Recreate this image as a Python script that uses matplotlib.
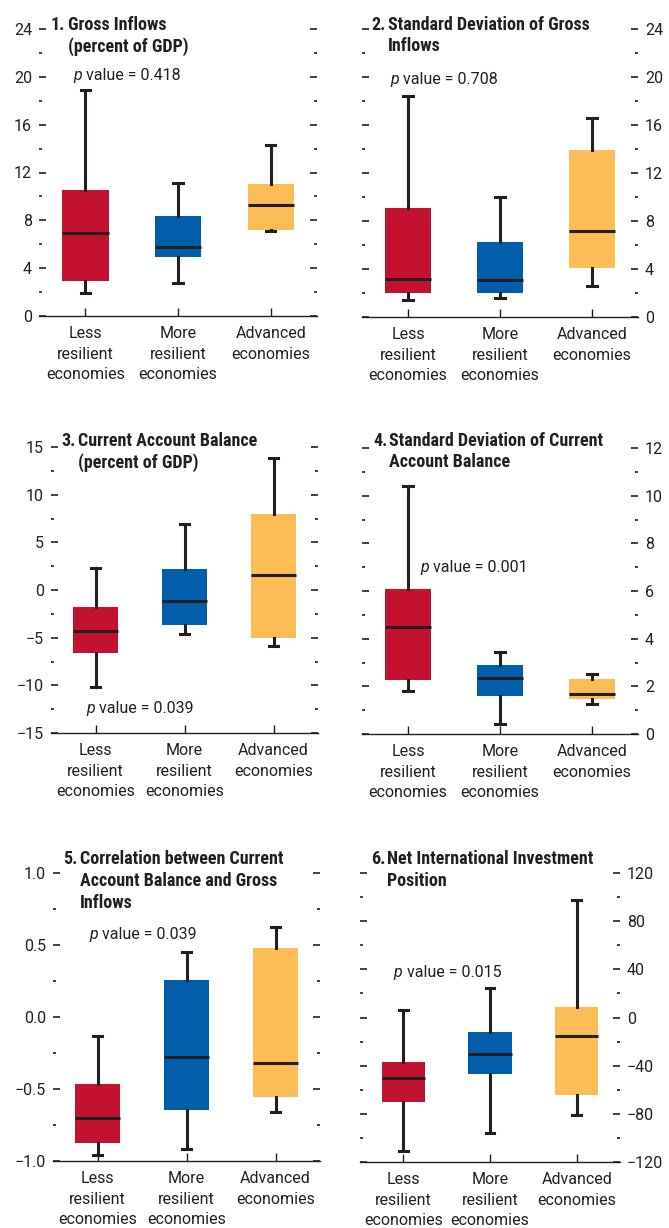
import matplotlib
matplotlib.use("Agg")
import matplotlib.pyplot as plt
from matplotlib import font_manager as fm
from matplotlib.font_manager import FontProperties
from matplotlib.ticker import MultipleLocator

# ---------------- data ----------------
categories = ["Less\nresilient\neconomies", "More\nresilient\neconomies", "Advanced\neconomies"]
colors = ["#C31230", "#005EAB", "#FDBD56"]

# each tuple: (whisker low, q1, median, q3, whisker high)
gross_inflows = [(1.9, 2.9, 6.9, 10.55, 18.9), (2.8, 4.9, 5.8, 8.4, 11.1), (7.1, 7.2, 9.3, 11.0, 14.3)]
sd_gross_inflows = [(1.45, 2.0, 3.15, 9.1, 18.4), (1.55, 2.0, 3.05, 6.25, 10.0), (2.55, 4.05, 7.2, 13.9, 16.6)]
current_account = [(-10.2, -6.65, -4.3, -1.8, 2.3), (-4.65, -3.7, -1.15, 2.2, 6.9), (-5.85, -5.05, 1.6, 7.95, 13.85)]
sd_current_account = [(1.8, 2.25, 4.47, 6.1, 10.4), (0.4, 1.58, 2.36, 2.9, 3.42), (1.26, 1.47, 1.66, 2.32, 2.53)]
corr_ca_inflows = [(-0.955, -0.875, -0.70, -0.462, -0.13), (-0.92, -0.643, -0.276, 0.255, 0.452), (-0.657, -0.555, -0.316, 0.478, 0.622)]
niip = [(-111.0, -69.8, -49.9, -37.1, 6.6), (-95.6, -46.6, -30.2, -12.2, 24.4), (-80.7, -64.0, -15.2, 8.6, 97.6)]

titles_num = ["1.", "2.", "3.", "4.", "5.", "6."]
titles_body = ["Gross Inflows\n(percent of GDP)",
               "Standard Deviation of Gross\nInflows",
               "Current Account Balance\n(percent of GDP)",
               "Standard Deviation of Current\nAccount Balance",
               "Correlation between Current\nAccount Balance and Gross\nInflows",
               "Net International Investment\nPosition"]
p_values = ["0.418", "0.708", "0.039", "0.001", "0.039", "0.015"]

# ---------------- fonts ----------------
def pick_bold():
    prefs = ["Roboto Condensed", "Archivo Narrow", "PT Sans Narrow", "Fira Sans Condensed",
             "IBM Plex Sans Condensed", "Liberation Sans Narrow"]
    fl = fm.fontManager.ttflist
    for fam in prefs:
        c = [f for f in fl if f.name == fam and f.style == "normal" and abs(int(f.weight) - 700) <= 50]
        c.sort(key=lambda f: ("[" in f.fname, abs(int(f.weight) - 700)))
        if c:
            return FontProperties(fname=c[0].fname)
    return FontProperties(family="Liberation Sans", weight="bold")

FP_BOLD = pick_bold()
FP_REG = FontProperties(family=["Roboto", "Liberation Sans", "DejaVu Sans"])
FP_IT = FontProperties(family=["Roboto", "Liberation Sans", "DejaVu Sans"], style="italic")

def fp(base, size):
    f = base.copy()
    f.set_size(size)
    return f

# ---------------- layout ----------------
W, H = 669, 1228
fig = plt.figure(figsize=(W / 100, H / 100), dpi=100)
INK = "#231F20"

def rect(x0, x1, yt, yb):
    return [x0 / W, 1 - yb / H, (x1 - x0) / W, (yb - yt) / H]

panels = [
    dict(data=gross_inflows, r=rect(39, 317, 29, 316), ylim=(0, 24), major=4, minor=2, side="left",
         p=(-0.13, 20.1), tnum=(51, 15.5), tbody=(68, 15.5)),
    dict(data=sd_gross_inflows, r=rect(362, 638, 29, 317), ylim=(0, 24), major=4, minor=2, side="right",
         p=(-0.19, 19.8), tnum=(371, 15.5), tbody=(388, 15.5)),
    dict(data=current_account, r=rect(51, 318, 447, 733), ylim=(-15, 15), major=5, minor=2.5, side="left",
         p=(-0.10, -12.4), tnum=(61, 431.5), tbody=(78, 431.5)),
    dict(data=sd_current_account, r=rect(362, 638, 448, 734), ylim=(0, 12), major=2, minor=1, side="right",
         p=(0.13, 7.0), tnum=(373, 431.5), tbody=(389, 431.5)),
    dict(data=corr_ca_inflows, r=rect(53, 320, 873, 1161), ylim=(-1, 1), major=0.5, minor=0.25, side="left",
         p=(-0.09, 0.575), tnum=(63, 850.5), tbody=(80, 850.5)),
    dict(data=niip, r=rect(360, 620, 873, 1162), ylim=(-120, 120), major=40, minor=20, side="right",
         p=(-0.11, 37.7), tnum=(371, 850.5), tbody=(387, 850.5)),
]

FS = 11.5
FS_T = 13
for i, pn in enumerate(panels):
    ax = fig.add_axes(pn["r"])
    stats = []
    for (lo, q1, med, q3, hi) in pn["data"]:
        stats.append(dict(whislo=lo, q1=q1, med=med, q3=q3, whishi=hi, fliers=[]))
    bp = ax.bxp(stats, positions=[0, 1, 2], widths=0.5, capwidths=0.1, patch_artist=True,
                showfliers=False,
                boxprops=dict(linewidth=0),
                whiskerprops=dict(color=INK, linewidth=2.2),
                capprops=dict(color=INK, linewidth=2.2),
                medianprops=dict(color=INK, linewidth=2.2, solid_capstyle="butt"))
    for patch, c in zip(bp["boxes"], colors):
        patch.set_facecolor(c)
        patch.set_edgecolor(c)
    ax.set_xlim(-0.5, 2.5)
    ax.set_ylim(*pn["ylim"])
    for s in ["left", "right", "top"]:
        ax.spines[s].set_visible(False)
    ax.spines["bottom"].set_color(INK)
    ax.spines["bottom"].set_linewidth(1.0)
    ax.yaxis.set_major_locator(MultipleLocator(pn["major"]))
    ax.yaxis.set_minor_locator(MultipleLocator(pn["minor"]))
    ax.tick_params(axis="y", which="both", direction="in", left=True, right=True,
                   color=INK, labelcolor=INK, pad=5)
    ax.tick_params(axis="y", which="major", length=5, width=1.2)
    ax.tick_params(axis="y", which="minor", length=2.5, width=1.2)
    if pn["side"] == "left":
        ax.tick_params(axis="y", labelleft=True, labelright=False)
    else:
        ax.tick_params(axis="y", labelleft=False, labelright=True)
    ax.set_xticks([0, 1, 2])
    ax.set_xticklabels(categories, linespacing=1.45)
    ax.tick_params(axis="x", direction="in", length=6, width=1, color=INK,
                   labelcolor=INK, pad=7.5)
    for lab in ax.get_xticklabels() + ax.get_yticklabels():
        lab.set_fontproperties(fp(FP_REG, FS))
    # p value: italic p followed by the rest
    t1 = ax.text(pn["p"][0], pn["p"][1], "p", ha="left", va="center",
                 fontproperties=fp(FP_IT, FS), color=INK)
    ax.annotate(" value = " + p_values[i], xy=(1, 0), xycoords=t1, ha="left", va="bottom",
                fontproperties=fp(FP_REG, FS), color=INK)
    # titles
    fig.text(pn["tnum"][0] / W, 1 - pn["tnum"][1] / H, titles_num[i], ha="left", va="top",
             fontproperties=fp(FP_BOLD, FS_T), color=INK)
    fig.text(pn["tbody"][0] / W, 1 - pn["tbody"][1] / H, titles_body[i], ha="left", va="top",
             fontproperties=fp(FP_BOLD, FS_T), color=INK, linespacing=1.27)

fig.savefig("out.png", dpi=100)
